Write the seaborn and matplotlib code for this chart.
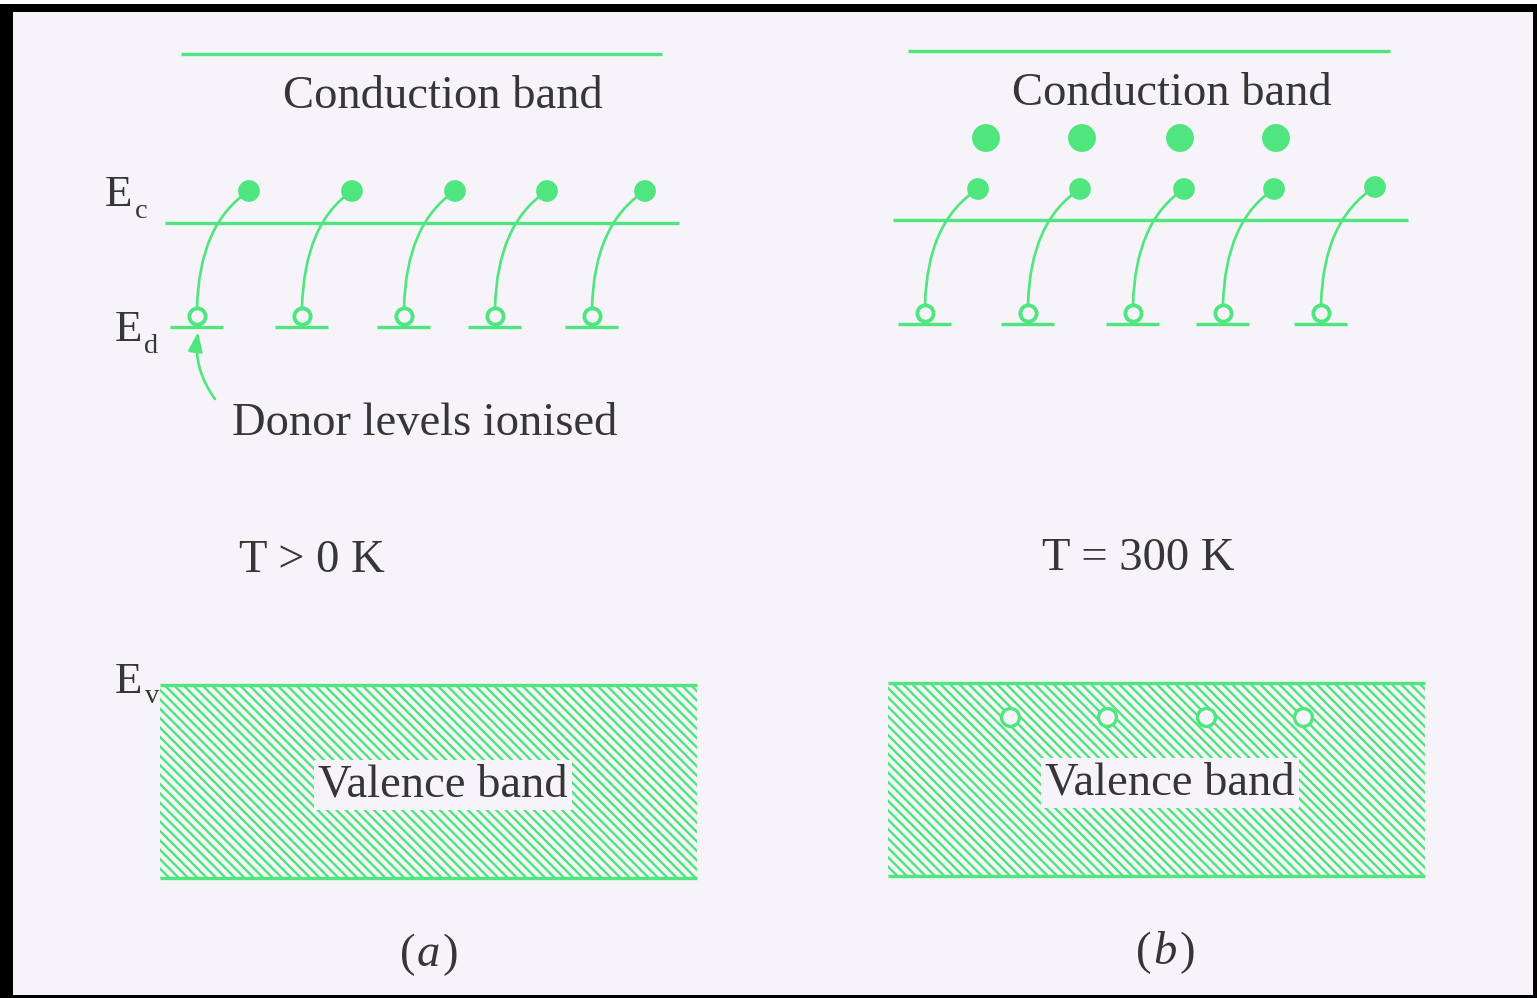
import matplotlib
matplotlib.use("Agg")
import matplotlib.pyplot as plt
import seaborn as sns
import numpy as np
import pandas as pd
from matplotlib.patches import Rectangle, PathPatch
from matplotlib.path import Path

# ---------------- data (positions in picture pixels) ----------------
GREEN = "#4fe680"
TEXT = "#363636"
BG = "#f6f4f9"

# panel (a)  T > 0 K
a_electron_x = [249, 352, 455, 547, 645]
a_electron_y = [191, 191, 191, 191, 191]
a_donor_x = [197, 302, 404, 495, 592]
a_donor_y = [316, 316, 316, 316, 316]
a_donor_line_y = 327
a_cond_top = (54, 181, 662)
a_ec = (223, 165, 679)
a_valence = (160, 697, 685, 878)   # x0, x1, top, bottom

# panel (b)  T = 300 K
b_free_x = [986, 1082, 1180, 1276]
b_free_y = [138, 138, 138, 138]
b_electron_x = [978, 1080, 1184, 1274, 1375]
b_electron_y = [189, 189, 189, 189, 187]
b_donor_x = [925, 1028, 1133, 1223, 1321]
b_donor_y = [313, 313, 313, 313, 313]
b_donor_line_y = 324
b_cond_top = (51, 908, 1390)
b_ec = (220, 893, 1408)
b_valence = (888, 1425, 683, 876)
b_hole_x = [1010, 1107, 1206, 1303]
b_hole_y = [717, 717, 717, 717]

W, H = 1537, 998
DPI = 120
HATCH_STEP = 9.4

sns.set_theme(style="white")
plt.rcParams["font.family"] = ["Liberation Serif", "DejaVu Serif"]

fig = plt.figure(figsize=(W / DPI, H / DPI), dpi=DPI)
ax = fig.add_axes([0, 0, 1, 1])
ax.set_xlim(0, W)
ax.set_ylim(H, 0)
ax.axis("off")

# frame: black border and page background
ax.add_patch(Rectangle((0, 0), W, H, facecolor="black", edgecolor="none", zorder=0))
ax.add_patch(Rectangle((0, 0), W, 4, facecolor="white", edgecolor="none", zorder=0.1))
ax.add_patch(Rectangle((13, 12), 1533 - 13, 995 - 12, facecolor=BG, edgecolor="none", zorder=0.2))

LW = 2.0
FS = 28


def hline(spec):
    y, x0, x1 = spec
    ax.plot([x0, x1], [y, y], color=GREEN, lw=LW, solid_capstyle="butt", zorder=2)


def curve(xb, yb, xt, yt):
    h = yb - yt
    verts = [(xb, yb), (xb + 2, yb - 0.72 * h), (xt, yt)]
    p = Path(verts, [Path.MOVETO, Path.CURVE3, Path.CURVE3])
    ax.add_patch(PathPatch(p, facecolor="none", edgecolor=GREEN, lw=1.6, zorder=2))


def valence(spec, label, cx, cy):
    x0, x1, top, bot = spec
    h = bot - top
    clip = Rectangle((x0, top), x1 - x0, h, facecolor="none", edgecolor="none")
    ax.add_patch(clip)
    for c in np.arange(x0 - h, x1, HATCH_STEP):
        ln, = ax.plot([c, c + h], [top, bot], color=GREEN, lw=1.45,
                      solid_capstyle="butt", zorder=1)
        ln.set_clip_path(clip)
    hline((top, x0, x1))
    hline((bot, x0, x1))
    ax.text(cx, cy, label, fontsize=FS, color=TEXT, ha="center", va="center", zorder=4,
            bbox=dict(boxstyle="square,pad=0.08", facecolor=BG, edgecolor="none"))


def donors(dx, dy, line_y, ex, ey):
    for x, y in zip(dx, dy):
        ax.plot([x - 27, x + 26], [line_y, line_y], color=GREEN, lw=LW,
                solid_capstyle="butt", zorder=2)
    for x0, y0, x1, y1 in zip(dx, dy, ex, ey):
        curve(x0, y0 - 8, x1, y1)
    df = pd.DataFrame({"x": dx, "y": dy})
    sns.scatterplot(data=df, x="x", y="y", ax=ax, s=95, marker="o",
                    facecolor=BG, edgecolor=GREEN, linewidth=2.3, zorder=3, legend=False)
    df = pd.DataFrame({"x": ex, "y": ey})
    sns.scatterplot(data=df, x="x", y="y", ax=ax, s=170, marker="o",
                    color=GREEN, edgecolor="none", zorder=3, legend=False)


def paren_label(cx, cy, letter):
    ax.text(cx - 13, cy, "(", fontsize=FS, color=TEXT, ha="right", va="center")
    ax.text(cx, cy, letter, fontsize=FS, color=TEXT, ha="center", va="center", style="italic")
    ax.text(cx + 14, cy, ")", fontsize=FS, color=TEXT, ha="left", va="center")


# ---------------- panel (a) ----------------
hline(a_cond_top)
hline(a_ec)
ax.text(443, 97, "Conduction band", fontsize=FS, color=TEXT, ha="center", va="center")
donors(a_donor_x, a_donor_y, a_donor_line_y, a_electron_x, a_electron_y)
ax.text(105, 206, "E", fontsize=27, color=TEXT, ha="left", va="baseline")
ax.text(135, 218, "c", fontsize=17, color=TEXT, ha="left", va="baseline")
ax.text(115, 341, "E", fontsize=27, color=TEXT, ha="left", va="baseline")
ax.text(144, 353, "d", fontsize=17, color=TEXT, ha="left", va="baseline")
ax.annotate("", xy=(198, 332), xytext=(215, 399),
            arrowprops=dict(arrowstyle="-|>,head_length=0.8,head_width=0.3", color=GREEN,
                            lw=1.6, connectionstyle="arc3,rad=-0.2", shrinkA=0, shrinkB=0),
            zorder=3)
ax.text(425, 424, "Donor levels ionised", fontsize=FS, color=TEXT, ha="center", va="center")
ax.text(312, 561, "T > 0 K", fontsize=FS, color=TEXT, ha="center", va="center")
ax.text(115, 693, "E", fontsize=27, color=TEXT, ha="left", va="baseline")
ax.text(145, 703, "v", fontsize=17, color=TEXT, ha="left", va="baseline")
valence(a_valence, "Valence band", 443, 785)
paren_label(428, 955, "a")

# ---------------- panel (b) ----------------
hline(b_cond_top)
hline(b_ec)
ax.text(1172, 94, "Conduction band", fontsize=FS, color=TEXT, ha="center", va="center")
donors(b_donor_x, b_donor_y, b_donor_line_y, b_electron_x, b_electron_y)
df_free = pd.DataFrame({"x": b_free_x, "y": b_free_y})
sns.scatterplot(data=df_free, x="x", y="y", ax=ax, s=280, marker="o",
                color=GREEN, edgecolor="none", zorder=3, legend=False)
ax.text(1138, 559, "T = 300 K", fontsize=FS, color=TEXT, ha="center", va="center")
valence(b_valence, "Valence band", 1170, 783)
df_holes = pd.DataFrame({"x": b_hole_x, "y": b_hole_y})
sns.scatterplot(data=df_holes, x="x", y="y", ax=ax, s=115, marker="o",
                facecolor=BG, edgecolor=GREEN, linewidth=2.0, zorder=3, legend=False)
paren_label(1165, 953, "b")

ax.set_xlabel("")
ax.set_ylabel("")
fig.savefig("out.png", dpi=DPI, facecolor="white")
